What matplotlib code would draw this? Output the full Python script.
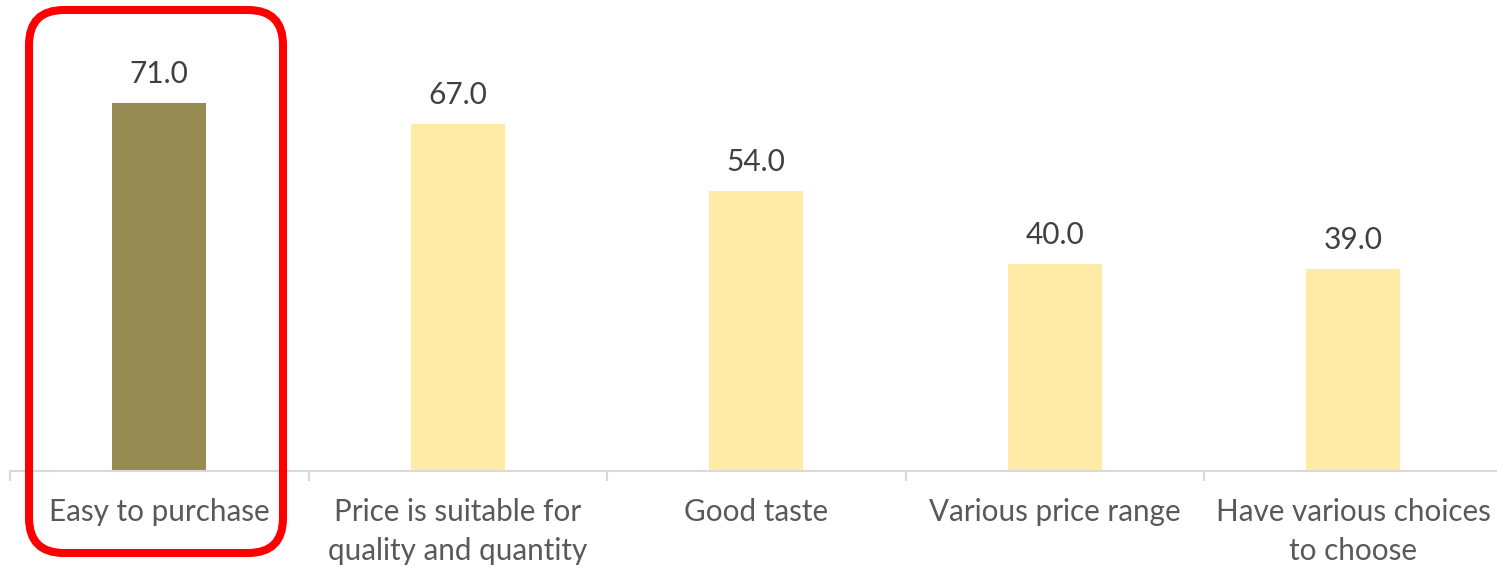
import matplotlib
matplotlib.use("Agg")
import matplotlib.pyplot as plt
from matplotlib.patches import FancyBboxPatch
from matplotlib.transforms import IdentityTransform

categories = ["Easy to purchase", "Price is suitable for\nquality and quantity",
              "Good taste", "Various price range", "Have various choices\nto choose"]
values = [71.0, 67.0, 54.0, 40.0, 39.0]
colors = ["#958B53", "#FFEBA5", "#FFEBA5", "#FFEBA5", "#FFEBA5"]

plt.rcParams['font.family'] = ['Lato', 'DejaVu Sans']
txt = "#595959"

fig = plt.figure(figsize=(14.97, 5.67), dpi=100)
ax = fig.add_axes([10 / 1497, 96.5 / 567, 1492.5 / 1497, 413.6 / 567])

x = list(range(len(values)))
ax.bar(x, values, width=0.315, color=colors)
for xi, v in zip(x, values):
    ax.annotate("%.1f" % v, (xi, v), xytext=(0, 21), textcoords="offset points",
                ha="center", va="center", fontsize=21.5, color="#404040")

ax.set_xlim(-0.5, 4.5)
ax.set_ylim(0, 80)
ax.set_yticks([])
for s in ["top", "right", "left"]:
    ax.spines[s].set_visible(False)
ax.spines["bottom"].set_color("#D9D9D9")
ax.spines["bottom"].set_linewidth(1.5)

ax.set_xticks(x)
ax.set_xticklabels(categories, fontsize=21.3, color=txt, linespacing=1.45)
ax.tick_params(axis="x", which="major", length=0, pad=20)
ax.set_xticks([i - 0.5 for i in range(len(values) + 1)], minor=True)
ax.tick_params(axis="x", which="minor", length=7.5, color="#D9D9D9", width=1.5)

# red highlight around the first category
box = FancyBboxPatch((29 + 35, 14 + 35), 254 - 70, 543 - 70,
                     boxstyle="round,pad=35", transform=IdentityTransform(),
                     fill=False, edgecolor="#FF0000", linewidth=5.8)
fig.patches.append(box)

fig.savefig("out.png", dpi=100, facecolor="white")
